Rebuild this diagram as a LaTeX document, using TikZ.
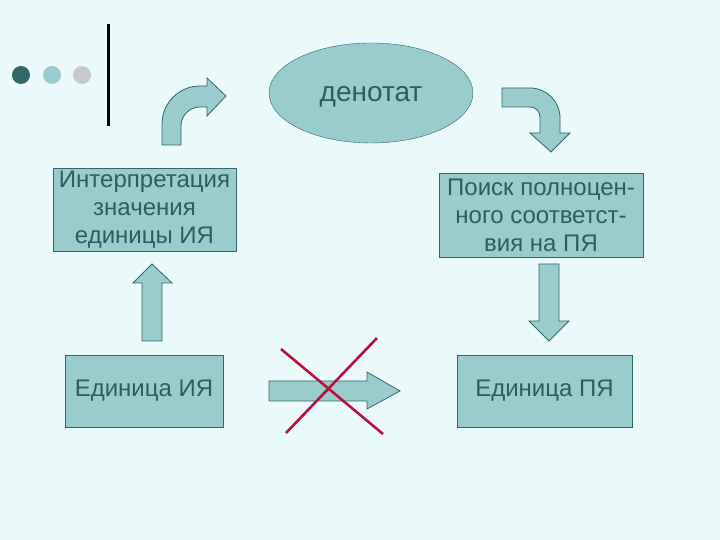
\documentclass[tikz,border=0pt]{standalone}
\usepackage{fontspec}
\setmainfont{Liberation Sans}
\usetikzlibrary{shapes.geometric}

\definecolor{bgcol}{RGB}{234,250,250}
\definecolor{fillcol}{RGB}{153,204,204}
\definecolor{edgecol}{RGB}{51,102,102}
\definecolor{textcol}{RGB}{46,94,94}
\definecolor{dotgrey}{RGB}{200,200,208}
\definecolor{crosscol}{RGB}{185,16,64}

\tikzset{
  box/.style={draw=edgecol, fill=fillcol, text=textcol, rectangle, align=center,
    inner sep=0pt, font=\fontsize{24}{28}\selectfont},
  blockarrow/.style={draw=edgecol, fill=fillcol, line width=0.8pt, line join=miter}
}

\begin{document}
\begin{tikzpicture}[x=1pt, y=1pt]
    \useasboundingbox (0,0) rectangle (720,540);
    \fill[bgcol] (0,0) rectangle (720,540);

    % corner decoration
    \fill[edgecol] (21,465) circle (9);
    \fill[fillcol] (52,465) circle (9);
    \fill[dotgrey] (82,465) circle (9);
    \draw[line width=3pt] (108,516) -- (108,414);

    % nodes
    \node[box, draw, ellipse, minimum width=204, minimum height=100,
      font=\fontsize{28}{32}\selectfont] (den) at (371,447) {};
    \node[text=textcol, font=\fontsize{28}{32}\selectfont] (denlabel) at (371,443) {денотат};
    \node[box, minimum width=183, minimum height=83] (interp) at (144.5,330.5)
      {Интерпретация\\значения\\единицы ИЯ};
    \node[box, minimum width=204, minimum height=84] (poisk) at (541,325)
      {Поиск полноцен-\\ного соответст-\\вия на ПЯ};
    \node[box, minimum width=158, minimum height=72] (edIA) at (144,149) {Единица ИЯ};
    \node[box, minimum width=175, minimum height=72] (edPA) at (544.5,149) {Единица ПЯ};

    % bent arrows
    \draw[blockarrow] (162,395) -- (162,416) arc (180:90:38) -- (207,454) -- (207,462)
      -- (226,444) -- (207,424) -- (207,433) -- (200,433) arc (90:180:19) -- (181,395) -- cycle;
    \draw[blockarrow] (502,452) -- (530,452) arc (90:0:30) -- (560,407) -- (570,407)
      -- (551,388) -- (530,407) -- (540,407) -- (540,423) arc (0:90:10) -- (502,433) -- cycle;

    % straight arrows
    \draw[blockarrow] (142,199) -- (142,257) -- (133,257) -- (152,276) -- (172,257)
      -- (162,257) -- (162,199) -- cycle;
    \draw[blockarrow] (539,276) -- (539,219) -- (529,219) -- (549,199) -- (569,219)
      -- (559,219) -- (559,276) -- cycle;
    \draw[blockarrow] (269,159) -- (367,159) -- (367,168) -- (400,149) -- (367,131)
      -- (367,139) -- (269,139) -- cycle;

    % cross
    \draw[crosscol, line width=2.6pt] (281,191) -- (383,106);
    \draw[crosscol, line width=2.6pt] (377,202) -- (286,107);
\end{tikzpicture}
\end{document}
